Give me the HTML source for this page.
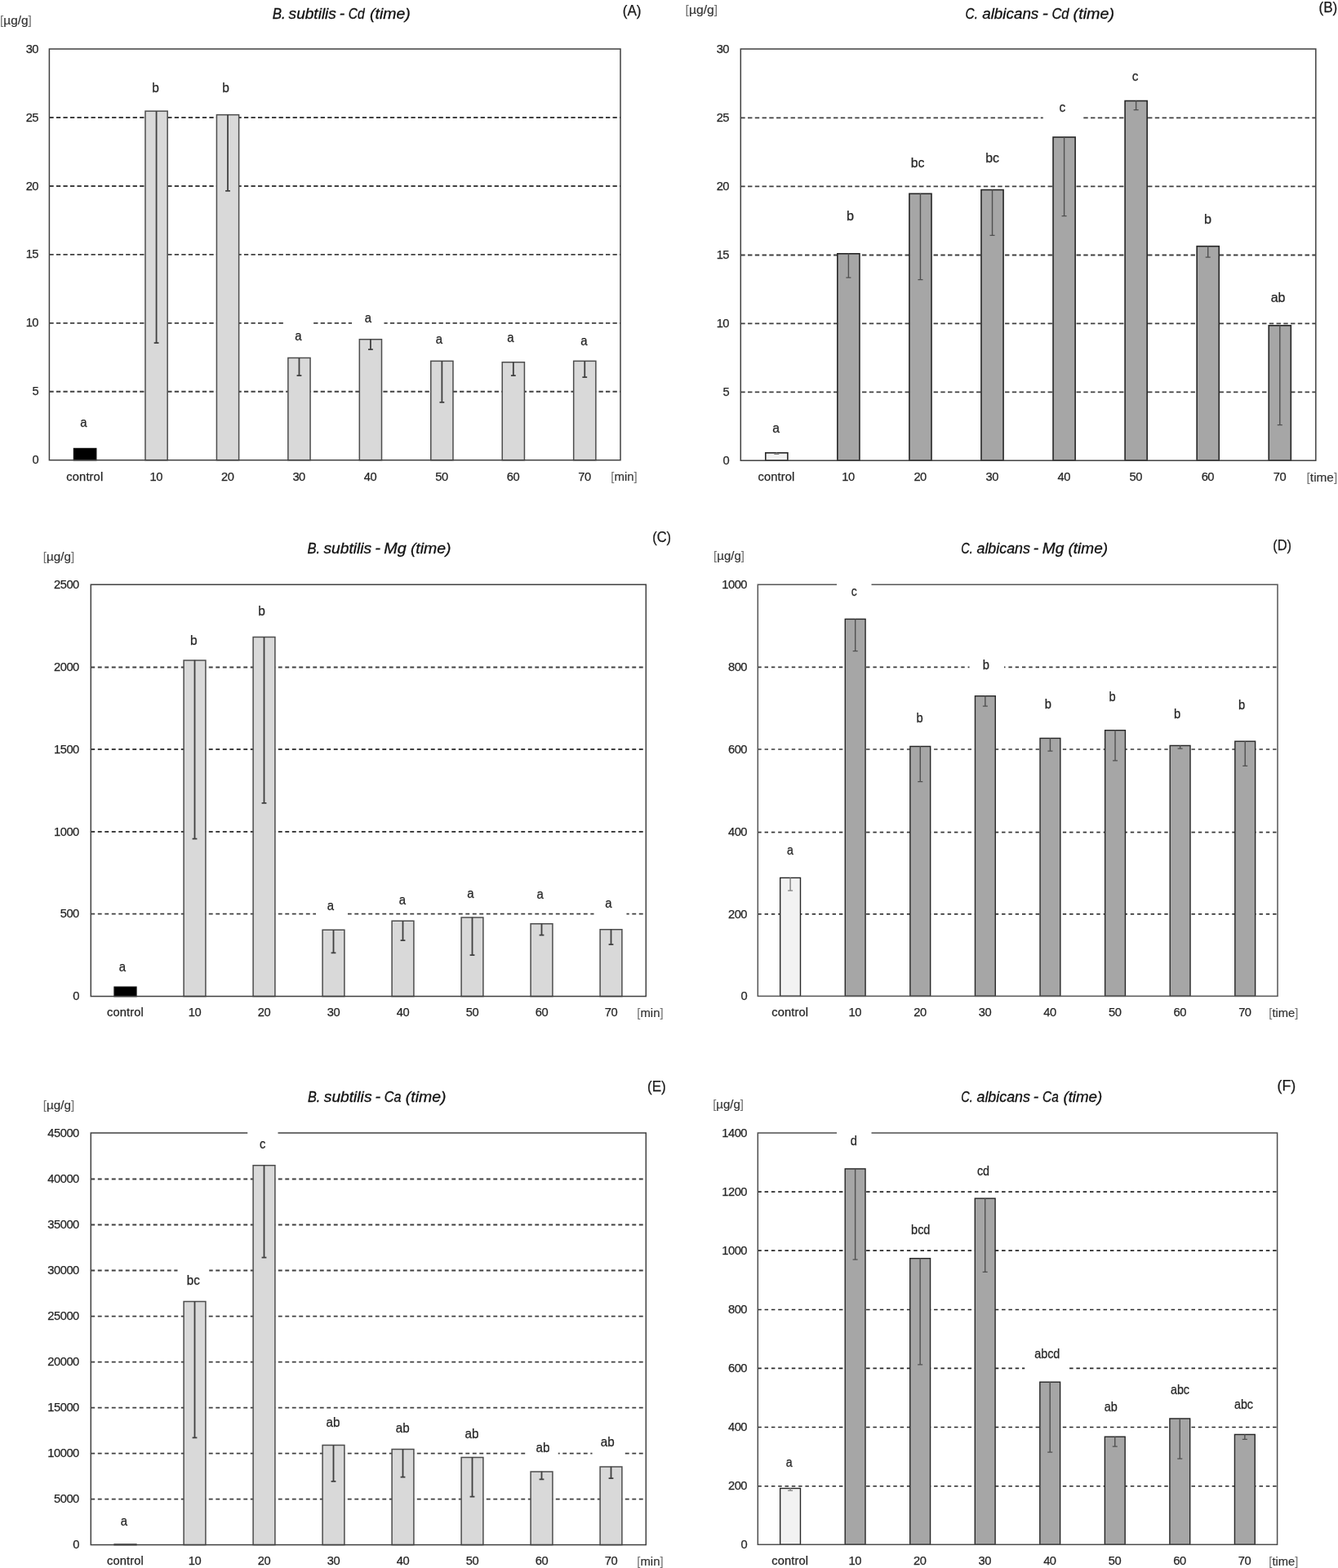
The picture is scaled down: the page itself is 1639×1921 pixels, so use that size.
<!DOCTYPE html>
<html lang="en">
<head>
<meta charset="utf-8">
<title>Metal accumulation over time - B. subtilis and C. albicans</title>
<style>
html,body{margin:0;padding:0;background:#fff;}
body{width:1639px;height:1921px;overflow:hidden;}
svg{display:block;font-family:'Liberation Sans', sans-serif;}
.frame{fill:none;stroke-width:1.5;}
.dl{font-size:16.0px;fill:#262626;text-anchor:middle;stroke:#262626;stroke-width:0.25px;}
.yt{font-size:14.7px;fill:#262626;text-anchor:end;letter-spacing:-0.45px;stroke:#262626;stroke-width:0.25px;}
.xt{font-size:14.7px;fill:#262626;text-anchor:middle;letter-spacing:-0.45px;stroke:#262626;stroke-width:0.25px;}
.xc{letter-spacing:0.12px;}
.un{font-size:15.2px;fill:#333333;stroke:#333;stroke-width:0.2px;}
.br{fill:#707070;stroke:none;}
.ti{font-size:17.8px;fill:#111;stroke:#111;stroke-width:0.3px;font-style:italic;}
.le{font-size:18.0px;fill:#1a1a1a;stroke:#1a1a1a;stroke-width:0.25px;}
</style>
</head>
<body>
<svg width="1639" height="1921" viewBox="0 0 1639 1921">
<rect width="1639" height="1921" fill="#fff"/>
<g class="panel">
<line x1="60.4" y1="479.75" x2="760" y2="479.75" stroke="#404040" stroke-width="1.85" stroke-dasharray="5.3 3.22"/>
<line x1="60.4" y1="395.8" x2="760" y2="395.8" stroke="#404040" stroke-width="1.85" stroke-dasharray="5.3 3.22"/>
<line x1="60.4" y1="311.9" x2="760" y2="311.9" stroke="#404040" stroke-width="1.85" stroke-dasharray="5.3 3.22"/>
<line x1="60.4" y1="228" x2="760" y2="228" stroke="#404040" stroke-width="1.85" stroke-dasharray="5.3 3.22"/>
<line x1="60.4" y1="144" x2="760" y2="144" stroke="#404040" stroke-width="1.85" stroke-dasharray="5.3 3.22"/>
<rect x="90.53" y="549.55" width="27.2" height="14.15" fill="#000000" stroke="#0d0d0d" stroke-width="1.5"/>
<rect x="177.98" y="136.15" width="27.2" height="427.55" fill="#d9d9d9" stroke="#4d4d4d" stroke-width="1.5"/>
<path d="M191.58 135.9V421.1M188.68 420.2H194.48" fill="none" stroke="#404040" stroke-width="1.8"/>
<rect x="265.42" y="140.65" width="27.2" height="423.05" fill="#d9d9d9" stroke="#4d4d4d" stroke-width="1.5"/>
<path d="M279.02 140.4V234.85M276.12 233.95H281.92" fill="none" stroke="#404040" stroke-width="1.8"/>
<rect x="352.87" y="438.45" width="27.2" height="125.25" fill="#d9d9d9" stroke="#4d4d4d" stroke-width="1.5"/>
<path d="M366.47 438.2V461.1M363.57 460.2H369.37" fill="none" stroke="#404040" stroke-width="1.8"/>
<rect x="440.32" y="415.75" width="27.2" height="147.95" fill="#d9d9d9" stroke="#4d4d4d" stroke-width="1.5"/>
<path d="M453.93 415.5V429.1M451.03 428.2H456.82" fill="none" stroke="#404040" stroke-width="1.8"/>
<rect x="527.77" y="442.35" width="27.2" height="121.35" fill="#d9d9d9" stroke="#4d4d4d" stroke-width="1.5"/>
<path d="M541.38 442.1V493.85M538.48 492.95H544.27" fill="none" stroke="#404040" stroke-width="1.8"/>
<rect x="615.23" y="443.75" width="27.2" height="119.95" fill="#d9d9d9" stroke="#4d4d4d" stroke-width="1.5"/>
<path d="M628.83 443.5V461.1M625.93 460.2H631.73" fill="none" stroke="#404040" stroke-width="1.8"/>
<rect x="702.67" y="442.35" width="27.2" height="121.35" fill="#d9d9d9" stroke="#4d4d4d" stroke-width="1.5"/>
<path d="M716.27 442.1V463.1M713.38 462.2H719.17" fill="none" stroke="#404040" stroke-width="1.8"/>
<rect class="frame" x="60.4" y="60" width="699.6" height="503.7" stroke="#404040"/>
<rect fill="#fff" x="347.5" y="393.3" width="36.5" height="5"/>
<rect fill="#fff" x="431" y="393.3" width="39.5" height="5"/>
<text class="dl" x="102.5" y="523" font-size="16" textLength="8.3" lengthAdjust="spacingAndGlyphs">a</text>
<text class="dl" x="190.5" y="113" font-size="16" textLength="8.6" lengthAdjust="spacingAndGlyphs">b</text>
<text class="dl" x="276.5" y="113" font-size="16" textLength="8.6" lengthAdjust="spacingAndGlyphs">b</text>
<text class="dl" x="365.3" y="417" font-size="16" textLength="8.3" lengthAdjust="spacingAndGlyphs">a</text>
<text class="dl" x="451" y="395" font-size="16" textLength="8.3" lengthAdjust="spacingAndGlyphs">a</text>
<text class="dl" x="538" y="421" font-size="16" textLength="8.3" lengthAdjust="spacingAndGlyphs">a</text>
<text class="dl" x="625.5" y="419" font-size="16" textLength="8.3" lengthAdjust="spacingAndGlyphs">a</text>
<text class="dl" x="715.5" y="423" font-size="16" textLength="8.3" lengthAdjust="spacingAndGlyphs">a</text>
<text class="yt" x="47.1" y="568" font-size="14.7">0</text>
<text class="yt" x="47.1" y="484" font-size="14.7">5</text>
<text class="yt" x="47.1" y="400" font-size="14.7">10</text>
<text class="yt" x="47.1" y="316" font-size="14.7">15</text>
<text class="yt" x="47.1" y="233" font-size="14.7">20</text>
<text class="yt" x="47.1" y="149" font-size="14.7">25</text>
<text class="yt" x="47.1" y="65" font-size="14.7">30</text>
<text class="xt xc" x="103.83" y="589" font-size="14.7">control</text>
<text class="xt" x="191.23" y="589" font-size="14.7">10</text>
<text class="xt" x="278.67" y="589" font-size="14.7">20</text>
<text class="xt" x="366.12" y="589" font-size="14.7">30</text>
<text class="xt" x="453.57" y="589" font-size="14.7">40</text>
<text class="xt" x="541.02" y="589" font-size="14.7">50</text>
<text class="xt" x="628.48" y="589" font-size="14.7">60</text>
<text class="xt" x="715.92" y="589" font-size="14.7">70</text>
<text class="un" x="0.1" y="30" font-size="15.2" textLength="38.8" lengthAdjust="spacingAndGlyphs"><tspan class="br">[</tspan>µg/g<tspan class="br">]</tspan></text>
<text class="un" x="748.3" y="589" font-size="15.2" textLength="32.4" lengthAdjust="spacingAndGlyphs"><tspan class="br">[</tspan>min<tspan class="br">]</tspan></text>
<text class="ti" y="22.6" font-size="17.8"><tspan x="333.7" textLength="16" lengthAdjust="spacingAndGlyphs">B.</tspan> <tspan x="353.6" textLength="58.3" lengthAdjust="spacingAndGlyphs">subtilis</tspan> <tspan x="415.8" textLength="6.5" lengthAdjust="spacingAndGlyphs">-</tspan> <tspan x="426.8" textLength="19.9" lengthAdjust="spacingAndGlyphs">Cd</tspan> <tspan x="453" textLength="49.8" lengthAdjust="spacingAndGlyphs">(time)</tspan></text>
<text class="le" x="762.7" y="19" textLength="22.8" lengthAdjust="spacingAndGlyphs">(A)</text>
</g>
<g class="panel">
<line x1="907.3" y1="480.3" x2="1611.8" y2="480.3" stroke="#404040" stroke-width="1.8" stroke-dasharray="5.4 3.35"/>
<line x1="907.3" y1="396.4" x2="1611.8" y2="396.4" stroke="#404040" stroke-width="1.8" stroke-dasharray="5.4 3.35"/>
<line x1="907.3" y1="312.5" x2="1611.8" y2="312.5" stroke="#404040" stroke-width="1.8" stroke-dasharray="5.4 3.35"/>
<line x1="907.3" y1="228.4" x2="1611.8" y2="228.4" stroke="#404040" stroke-width="1.8" stroke-dasharray="5.4 3.35"/>
<line x1="907.3" y1="144.4" x2="1611.8" y2="144.4" stroke="#404040" stroke-width="1.8" stroke-dasharray="5.4 3.35"/>
<rect x="937.78" y="554.8" width="27.1" height="9.4" fill="#f2f2f2" stroke="#262626" stroke-width="1.6"/>
<path d="M951.33 554.5V557.1M948.33 556.4H954.33" fill="none" stroke="#7f7f7f" stroke-width="1.4"/>
<rect x="1025.84" y="310.8" width="27.1" height="253.4" fill="#a6a6a6" stroke="#262626" stroke-width="1.6"/>
<path d="M1039.39 310.5V340.8M1036.39 340.1H1042.39" fill="none" stroke="#505050" stroke-width="1.4"/>
<rect x="1113.91" y="237.3" width="27.1" height="326.9" fill="#a6a6a6" stroke="#262626" stroke-width="1.6"/>
<path d="M1127.46 237V343.3M1124.46 342.6H1130.46" fill="none" stroke="#505050" stroke-width="1.4"/>
<rect x="1201.97" y="232.55" width="27.1" height="331.65" fill="#a6a6a6" stroke="#262626" stroke-width="1.6"/>
<path d="M1215.52 232.25V289.05M1212.52 288.35H1218.52" fill="none" stroke="#505050" stroke-width="1.4"/>
<rect x="1290.03" y="168.05" width="27.1" height="396.15" fill="#a6a6a6" stroke="#262626" stroke-width="1.6"/>
<path d="M1303.58 167.75V265.3M1300.58 264.6H1306.58" fill="none" stroke="#505050" stroke-width="1.4"/>
<rect x="1378.09" y="123.55" width="27.1" height="440.65" fill="#a6a6a6" stroke="#262626" stroke-width="1.6"/>
<path d="M1391.64 123.25V135.3M1388.64 134.6H1394.64" fill="none" stroke="#505050" stroke-width="1.4"/>
<rect x="1466.16" y="301.7" width="27.1" height="262.5" fill="#a6a6a6" stroke="#262626" stroke-width="1.6"/>
<path d="M1479.71 301.4V315.8M1476.71 315.1H1482.71" fill="none" stroke="#505050" stroke-width="1.4"/>
<rect x="1554.22" y="398.8" width="27.1" height="165.4" fill="#a6a6a6" stroke="#262626" stroke-width="1.6"/>
<path d="M1567.77 398.5V521.3M1564.77 520.6H1570.77" fill="none" stroke="#505050" stroke-width="1.4"/>
<rect class="frame" x="907.3" y="60" width="704.5" height="504.2" stroke="#404040"/>
<rect fill="#fff" x="1277.75" y="141.9" width="49.25" height="5"/>
<text class="dl" x="950.5" y="530" font-size="16.8" textLength="8.72" lengthAdjust="spacingAndGlyphs">a</text>
<text class="dl" x="1041.5" y="270" font-size="16.8" textLength="9.03" lengthAdjust="spacingAndGlyphs">b</text>
<text class="dl" x="1124" y="205" font-size="16.8" textLength="16.7" lengthAdjust="spacingAndGlyphs">bc</text>
<text class="dl" x="1215.5" y="199" font-size="16.8" textLength="16.7" lengthAdjust="spacingAndGlyphs">bc</text>
<text class="dl" x="1301.3" y="137" font-size="16.8" textLength="7.67" lengthAdjust="spacingAndGlyphs">c</text>
<text class="dl" x="1390.5" y="99" font-size="16.8" textLength="7.67" lengthAdjust="spacingAndGlyphs">c</text>
<text class="dl" x="1479.5" y="274" font-size="16.8" textLength="9.03" lengthAdjust="spacingAndGlyphs">b</text>
<text class="dl" x="1565.5" y="370" font-size="16.8" textLength="17.75" lengthAdjust="spacingAndGlyphs">ab</text>
<text class="yt" x="893.1" y="569" font-size="15.44">0</text>
<text class="yt" x="893.1" y="485" font-size="15.44">5</text>
<text class="yt" x="893.1" y="401" font-size="15.44">10</text>
<text class="yt" x="893.1" y="317" font-size="15.44">15</text>
<text class="yt" x="893.1" y="233" font-size="15.44">20</text>
<text class="yt" x="893.1" y="149" font-size="15.44">25</text>
<text class="yt" x="893.1" y="65" font-size="15.44">30</text>
<text class="xt xc" x="951.03" y="589" font-size="15.44">control</text>
<text class="xt" x="1039.04" y="589" font-size="15.44">10</text>
<text class="xt" x="1127.11" y="589" font-size="15.44">20</text>
<text class="xt" x="1215.17" y="589" font-size="15.44">30</text>
<text class="xt" x="1303.23" y="589" font-size="15.44">40</text>
<text class="xt" x="1391.29" y="589" font-size="15.44">50</text>
<text class="xt" x="1479.36" y="589" font-size="15.44">60</text>
<text class="xt" x="1567.42" y="589" font-size="15.44">70</text>
<text class="un" x="839.6" y="17" font-size="15.96" textLength="39.6" lengthAdjust="spacingAndGlyphs"><tspan class="br">[</tspan>µg/g<tspan class="br">]</tspan></text>
<text class="un" x="1600.6" y="590" font-size="15.96" textLength="37.6" lengthAdjust="spacingAndGlyphs"><tspan class="br">[</tspan>time<tspan class="br">]</tspan></text>
<text class="ti" y="23.2" font-size="18.69"><tspan x="1182.6" textLength="15.3" lengthAdjust="spacingAndGlyphs">C.</tspan> <tspan x="1203.2" textLength="69.1" lengthAdjust="spacingAndGlyphs">albicans</tspan> <tspan x="1276.8" textLength="7.1" lengthAdjust="spacingAndGlyphs">-</tspan> <tspan x="1288.4" textLength="21.1" lengthAdjust="spacingAndGlyphs">Cd</tspan> <tspan x="1314.6" textLength="50.4" lengthAdjust="spacingAndGlyphs">(time)</tspan></text>
<text class="le" x="1615.45" y="15" textLength="22.8" lengthAdjust="spacingAndGlyphs">(B)</text>
</g>
<g class="panel">
<line x1="111.3" y1="1119.6" x2="791.3" y2="1119.6" stroke="#404040" stroke-width="1.9" stroke-dasharray="4.9 3.6"/>
<line x1="111.3" y1="1019" x2="791.3" y2="1019" stroke="#404040" stroke-width="1.9" stroke-dasharray="4.9 3.6"/>
<line x1="111.3" y1="918" x2="791.3" y2="918" stroke="#404040" stroke-width="1.9" stroke-dasharray="4.9 3.6"/>
<line x1="111.3" y1="817.5" x2="791.3" y2="817.5" stroke="#404040" stroke-width="1.9" stroke-dasharray="4.9 3.6"/>
<rect x="140.1" y="1209.25" width="26.8" height="11.35" fill="#000000" stroke="#0d0d0d" stroke-width="1.5"/>
<rect x="225.1" y="809" width="26.8" height="411.6" fill="#d9d9d9" stroke="#4d4d4d" stroke-width="1.5"/>
<path d="M238.5 808.75V1028.6M235.6 1027.7H241.4" fill="none" stroke="#404040" stroke-width="1.8"/>
<rect x="310.1" y="780.5" width="26.8" height="440.1" fill="#d9d9d9" stroke="#4d4d4d" stroke-width="1.5"/>
<path d="M323.5 780.25V984.85M320.6 983.95H326.4" fill="none" stroke="#404040" stroke-width="1.8"/>
<rect x="395.1" y="1139.25" width="26.8" height="81.35" fill="#d9d9d9" stroke="#4d4d4d" stroke-width="1.5"/>
<path d="M408.5 1139V1168.35M405.6 1167.45H411.4" fill="none" stroke="#404040" stroke-width="1.8"/>
<rect x="480.1" y="1128.25" width="26.8" height="92.35" fill="#d9d9d9" stroke="#4d4d4d" stroke-width="1.5"/>
<path d="M493.5 1128V1153.1M490.6 1152.2H496.4" fill="none" stroke="#404040" stroke-width="1.8"/>
<rect x="565.1" y="1124" width="26.8" height="96.6" fill="#d9d9d9" stroke="#4d4d4d" stroke-width="1.5"/>
<path d="M578.5 1123.75V1171.1M575.6 1170.2H581.4" fill="none" stroke="#404040" stroke-width="1.8"/>
<rect x="650.1" y="1131.75" width="26.8" height="88.85" fill="#d9d9d9" stroke="#4d4d4d" stroke-width="1.5"/>
<path d="M663.5 1131.5V1146.6M660.6 1145.7H666.4" fill="none" stroke="#404040" stroke-width="1.8"/>
<rect x="735.1" y="1138.75" width="26.8" height="81.85" fill="#d9d9d9" stroke="#4d4d4d" stroke-width="1.5"/>
<path d="M748.5 1138.5V1158.1M745.6 1157.2H751.4" fill="none" stroke="#404040" stroke-width="1.8"/>
<rect class="frame" x="111.3" y="716.2" width="680" height="504.4" stroke="#404040"/>
<rect fill="#fff" x="387" y="1117.1" width="39" height="5"/>
<rect fill="#fff" x="727.5" y="1117.1" width="40" height="5"/>
<text class="dl" x="150" y="1190" font-size="16" textLength="8.3" lengthAdjust="spacingAndGlyphs">a</text>
<text class="dl" x="237.3" y="790" font-size="16" textLength="8.6" lengthAdjust="spacingAndGlyphs">b</text>
<text class="dl" x="320.5" y="754" font-size="16" textLength="8.6" lengthAdjust="spacingAndGlyphs">b</text>
<text class="dl" x="405" y="1115" font-size="16" textLength="8.3" lengthAdjust="spacingAndGlyphs">a</text>
<text class="dl" x="493" y="1108" font-size="16" textLength="8.3" lengthAdjust="spacingAndGlyphs">a</text>
<text class="dl" x="576.5" y="1100" font-size="16" textLength="8.3" lengthAdjust="spacingAndGlyphs">a</text>
<text class="dl" x="661.7" y="1101" font-size="16" textLength="8.3" lengthAdjust="spacingAndGlyphs">a</text>
<text class="dl" x="745.5" y="1112" font-size="16" textLength="8.3" lengthAdjust="spacingAndGlyphs">a</text>
<text class="yt" x="96.85" y="1225" font-size="14.7">0</text>
<text class="yt" x="96.85" y="1124" font-size="14.7">500</text>
<text class="yt" x="96.85" y="1024" font-size="14.7">1000</text>
<text class="yt" x="96.85" y="923" font-size="14.7">1500</text>
<text class="yt" x="96.85" y="822" font-size="14.7">2000</text>
<text class="yt" x="96.85" y="721" font-size="14.7">2500</text>
<text class="xt xc" x="153.5" y="1245" font-size="14.7">control</text>
<text class="xt" x="238.45" y="1245" font-size="14.7">10</text>
<text class="xt" x="323.45" y="1245" font-size="14.7">20</text>
<text class="xt" x="408.45" y="1245" font-size="14.7">30</text>
<text class="xt" x="493.45" y="1245" font-size="14.7">40</text>
<text class="xt" x="578.45" y="1245" font-size="14.7">50</text>
<text class="xt" x="663.45" y="1245" font-size="14.7">60</text>
<text class="xt" x="748.45" y="1245" font-size="14.7">70</text>
<text class="un" x="52.85" y="687" font-size="15.2" textLength="38.4" lengthAdjust="spacingAndGlyphs"><tspan class="br">[</tspan>µg/g<tspan class="br">]</tspan></text>
<text class="un" x="780.35" y="1246" font-size="15.2" textLength="32.2" lengthAdjust="spacingAndGlyphs"><tspan class="br">[</tspan>min<tspan class="br">]</tspan></text>
<text class="ti" y="678.2" font-size="17.8"><tspan x="376.6" textLength="15.6" lengthAdjust="spacingAndGlyphs">B.</tspan> <tspan x="396.5" textLength="58.6" lengthAdjust="spacingAndGlyphs">subtilis</tspan> <tspan x="459.3" textLength="6.8" lengthAdjust="spacingAndGlyphs">-</tspan> <tspan x="470.3" textLength="27.5" lengthAdjust="spacingAndGlyphs">Mg</tspan> <tspan x="502.9" textLength="49.6" lengthAdjust="spacingAndGlyphs">(time)</tspan></text>
<text class="le" x="799.2" y="664" textLength="22.8" lengthAdjust="spacingAndGlyphs">(C)</text>
</g>
<g class="panel">
<line x1="928.3" y1="1119.9" x2="1565" y2="1119.9" stroke="#3a3a3a" stroke-width="1.65" stroke-dasharray="4.4 3.9"/>
<line x1="928.3" y1="1019.6" x2="1565" y2="1019.6" stroke="#3a3a3a" stroke-width="1.65" stroke-dasharray="4.4 3.9"/>
<line x1="928.3" y1="918" x2="1565" y2="918" stroke="#3a3a3a" stroke-width="1.65" stroke-dasharray="4.4 3.9"/>
<line x1="928.3" y1="817.4" x2="1565" y2="817.4" stroke="#3a3a3a" stroke-width="1.65" stroke-dasharray="4.4 3.9"/>
<rect x="955.69" y="1075.45" width="24.8" height="144.95" fill="#f2f2f2" stroke="#262626" stroke-width="1.4"/>
<path d="M968.09 1075.25V1091.8M965.09 1091.1H971.09" fill="none" stroke="#7f7f7f" stroke-width="1.4"/>
<rect x="1035.28" y="758.45" width="24.8" height="461.95" fill="#a6a6a6" stroke="#262626" stroke-width="1.4"/>
<path d="M1047.68 758.25V798.3M1044.68 797.6H1050.68" fill="none" stroke="#505050" stroke-width="1.4"/>
<rect x="1114.87" y="914.45" width="24.8" height="305.95" fill="#a6a6a6" stroke="#262626" stroke-width="1.4"/>
<path d="M1127.27 914.25V958.3M1124.27 957.6H1130.27" fill="none" stroke="#505050" stroke-width="1.4"/>
<rect x="1194.46" y="852.7" width="24.8" height="367.7" fill="#a6a6a6" stroke="#262626" stroke-width="1.4"/>
<path d="M1206.86 852.5V865.8M1203.86 865.1H1209.86" fill="none" stroke="#505050" stroke-width="1.4"/>
<rect x="1274.04" y="904.45" width="24.8" height="315.95" fill="#a6a6a6" stroke="#262626" stroke-width="1.4"/>
<path d="M1286.44 904.25V920.8M1283.44 920.1H1289.44" fill="none" stroke="#505050" stroke-width="1.4"/>
<rect x="1353.63" y="894.7" width="24.8" height="325.7" fill="#a6a6a6" stroke="#262626" stroke-width="1.4"/>
<path d="M1366.03 894.5V932.55M1363.03 931.85H1369.03" fill="none" stroke="#505050" stroke-width="1.4"/>
<rect x="1433.22" y="913.45" width="24.8" height="306.95" fill="#a6a6a6" stroke="#262626" stroke-width="1.4"/>
<path d="M1445.62 913.25V917.8M1442.62 917.1H1448.62" fill="none" stroke="#505050" stroke-width="1.4"/>
<rect x="1512.81" y="908.2" width="24.8" height="312.2" fill="#a6a6a6" stroke="#262626" stroke-width="1.4"/>
<path d="M1525.21 908V939.05M1522.21 938.35H1528.21" fill="none" stroke="#505050" stroke-width="1.4"/>
<rect class="frame" x="928.3" y="716.2" width="636.7" height="504.2" stroke="#555555"/>
<rect fill="#fff" x="1025" y="713.7" width="42.5" height="5"/>
<rect fill="#fff" x="1187.5" y="814.9" width="42.5" height="5"/>
<text class="dl" x="968" y="1047" font-size="15.2" textLength="7.89" lengthAdjust="spacingAndGlyphs">a</text>
<text class="dl" x="1046.25" y="730" font-size="15.2" textLength="6.93" lengthAdjust="spacingAndGlyphs">c</text>
<text class="dl" x="1126.5" y="885" font-size="15.2" textLength="8.17" lengthAdjust="spacingAndGlyphs">b</text>
<text class="dl" x="1207.75" y="820" font-size="15.2" textLength="8.17" lengthAdjust="spacingAndGlyphs">b</text>
<text class="dl" x="1283.75" y="868" font-size="15.2" textLength="8.17" lengthAdjust="spacingAndGlyphs">b</text>
<text class="dl" x="1362.5" y="859" font-size="15.2" textLength="8.17" lengthAdjust="spacingAndGlyphs">b</text>
<text class="dl" x="1442" y="880" font-size="15.2" textLength="8.17" lengthAdjust="spacingAndGlyphs">b</text>
<text class="dl" x="1521" y="869" font-size="15.2" textLength="8.17" lengthAdjust="spacingAndGlyphs">b</text>
<text class="yt" x="915.1" y="1225" font-size="13.96">0</text>
<text class="yt" x="915.1" y="1125" font-size="13.96">200</text>
<text class="yt" x="915.1" y="1024" font-size="13.96">400</text>
<text class="yt" x="915.1" y="923" font-size="13.96">600</text>
<text class="yt" x="915.1" y="822" font-size="13.96">800</text>
<text class="yt" x="915.1" y="721" font-size="13.96">1000</text>
<text class="xt xc" x="967.79" y="1245" font-size="13.96">control</text>
<text class="xt" x="1047.33" y="1245" font-size="13.96">10</text>
<text class="xt" x="1126.92" y="1245" font-size="13.96">20</text>
<text class="xt" x="1206.51" y="1245" font-size="13.96">30</text>
<text class="xt" x="1286.09" y="1245" font-size="13.96">40</text>
<text class="xt" x="1365.68" y="1245" font-size="13.96">50</text>
<text class="xt" x="1445.27" y="1245" font-size="13.96">60</text>
<text class="xt" x="1524.86" y="1245" font-size="13.96">70</text>
<text class="un" x="874.1" y="686" font-size="13.68" textLength="37.8" lengthAdjust="spacingAndGlyphs"><tspan class="br">[</tspan>µg/g<tspan class="br">]</tspan></text>
<text class="un" x="1554.35" y="1246" font-size="13.68" textLength="36" lengthAdjust="spacingAndGlyphs"><tspan class="br">[</tspan>time<tspan class="br">]</tspan></text>
<text class="ti" y="678.2" font-size="16.91"><tspan x="1177.3" textLength="14.4" lengthAdjust="spacingAndGlyphs">C.</tspan> <tspan x="1196.5" textLength="65.4" lengthAdjust="spacingAndGlyphs">albicans</tspan> <tspan x="1265.8" textLength="6.5" lengthAdjust="spacingAndGlyphs">-</tspan> <tspan x="1276.8" textLength="26.6" lengthAdjust="spacingAndGlyphs">Mg</tspan> <tspan x="1308.5" textLength="48.6" lengthAdjust="spacingAndGlyphs">(time)</tspan></text>
<text class="le" x="1559.2" y="674" textLength="22.8" lengthAdjust="spacingAndGlyphs">(D)</text>
</g>
<g class="panel">
<line x1="111.3" y1="1836.6" x2="791.3" y2="1836.6" stroke="#404040" stroke-width="1.9" stroke-dasharray="4.9 3.6"/>
<line x1="111.3" y1="1780.6" x2="791.3" y2="1780.6" stroke="#404040" stroke-width="1.9" stroke-dasharray="4.9 3.6"/>
<line x1="111.3" y1="1724.6" x2="791.3" y2="1724.6" stroke="#404040" stroke-width="1.9" stroke-dasharray="4.9 3.6"/>
<line x1="111.3" y1="1668.6" x2="791.3" y2="1668.6" stroke="#404040" stroke-width="1.9" stroke-dasharray="4.9 3.6"/>
<line x1="111.3" y1="1612.6" x2="791.3" y2="1612.6" stroke="#404040" stroke-width="1.9" stroke-dasharray="4.9 3.6"/>
<line x1="111.3" y1="1556.5" x2="791.3" y2="1556.5" stroke="#404040" stroke-width="1.9" stroke-dasharray="4.9 3.6"/>
<line x1="111.3" y1="1500.5" x2="791.3" y2="1500.5" stroke="#404040" stroke-width="1.9" stroke-dasharray="4.9 3.6"/>
<line x1="111.3" y1="1444.5" x2="791.3" y2="1444.5" stroke="#404040" stroke-width="1.9" stroke-dasharray="4.9 3.6"/>
<rect x="140.1" y="1892.15" width="26.8" height="0.45" fill="#000000" stroke="#0d0d0d" stroke-width="1.5"/>
<rect x="225.1" y="1594.5" width="26.8" height="298.1" fill="#d9d9d9" stroke="#4d4d4d" stroke-width="1.5"/>
<path d="M238.5 1594.25V1762.35M235.6 1761.45H241.4" fill="none" stroke="#404040" stroke-width="1.8"/>
<rect x="310.1" y="1427.75" width="26.8" height="464.85" fill="#d9d9d9" stroke="#4d4d4d" stroke-width="1.5"/>
<path d="M323.5 1427.5V1541.6M320.6 1540.7H326.4" fill="none" stroke="#404040" stroke-width="1.8"/>
<rect x="395.1" y="1770.5" width="26.8" height="122.1" fill="#d9d9d9" stroke="#4d4d4d" stroke-width="1.5"/>
<path d="M408.5 1770.25V1815.85M405.6 1814.95H411.4" fill="none" stroke="#404040" stroke-width="1.8"/>
<rect x="480.1" y="1775.5" width="26.8" height="117.1" fill="#d9d9d9" stroke="#4d4d4d" stroke-width="1.5"/>
<path d="M493.5 1775.25V1810.6M490.6 1809.7H496.4" fill="none" stroke="#404040" stroke-width="1.8"/>
<rect x="565.1" y="1785.5" width="26.8" height="107.1" fill="#d9d9d9" stroke="#4d4d4d" stroke-width="1.5"/>
<path d="M578.5 1785.25V1834.6M575.6 1833.7H581.4" fill="none" stroke="#404040" stroke-width="1.8"/>
<rect x="650.1" y="1803" width="26.8" height="89.6" fill="#d9d9d9" stroke="#4d4d4d" stroke-width="1.5"/>
<path d="M663.5 1802.75V1813.35M660.6 1812.45H666.4" fill="none" stroke="#404040" stroke-width="1.8"/>
<rect x="735.1" y="1797" width="26.8" height="95.6" fill="#d9d9d9" stroke="#4d4d4d" stroke-width="1.5"/>
<path d="M748.5 1796.75V1812.1M745.6 1811.2H751.4" fill="none" stroke="#404040" stroke-width="1.8"/>
<rect class="frame" x="111.3" y="1388" width="680" height="504.6" stroke="#404040"/>
<rect fill="#fff" x="303.25" y="1385.5" width="37.25" height="5"/>
<rect fill="#fff" x="217.5" y="1554" width="38.75" height="5"/>
<rect fill="#fff" x="645" y="1778.1" width="38.75" height="5"/>
<rect fill="#fff" x="725.5" y="1778.1" width="37.5" height="5"/>
<text class="dl" x="152" y="1869" font-size="16" textLength="8.3" lengthAdjust="spacingAndGlyphs">a</text>
<text class="dl" x="236.75" y="1574" font-size="16" textLength="15.9" lengthAdjust="spacingAndGlyphs">bc</text>
<text class="dl" x="321.75" y="1407" font-size="16" textLength="7.3" lengthAdjust="spacingAndGlyphs">c</text>
<text class="dl" x="408" y="1748" font-size="16" textLength="16.9" lengthAdjust="spacingAndGlyphs">ab</text>
<text class="dl" x="493.25" y="1755" font-size="16" textLength="16.9" lengthAdjust="spacingAndGlyphs">ab</text>
<text class="dl" x="578" y="1762" font-size="16" textLength="16.9" lengthAdjust="spacingAndGlyphs">ab</text>
<text class="dl" x="665" y="1779" font-size="16" textLength="16.9" lengthAdjust="spacingAndGlyphs">ab</text>
<text class="dl" x="744.25" y="1772" font-size="16" textLength="16.9" lengthAdjust="spacingAndGlyphs">ab</text>
<text class="yt" x="96.85" y="1897" font-size="14.7">0</text>
<text class="yt" x="96.85" y="1841" font-size="14.7">5000</text>
<text class="yt" x="96.85" y="1785" font-size="14.7">10000</text>
<text class="yt" x="96.85" y="1729" font-size="14.7">15000</text>
<text class="yt" x="96.85" y="1673" font-size="14.7">20000</text>
<text class="yt" x="96.85" y="1617" font-size="14.7">25000</text>
<text class="yt" x="96.85" y="1561" font-size="14.7">30000</text>
<text class="yt" x="96.85" y="1505" font-size="14.7">35000</text>
<text class="yt" x="96.85" y="1449" font-size="14.7">40000</text>
<text class="yt" x="96.85" y="1393" font-size="14.7">45000</text>
<text class="xt xc" x="153.5" y="1917" font-size="14.7">control</text>
<text class="xt" x="238.45" y="1917" font-size="14.7">10</text>
<text class="xt" x="323.45" y="1917" font-size="14.7">20</text>
<text class="xt" x="408.45" y="1917" font-size="14.7">30</text>
<text class="xt" x="493.45" y="1917" font-size="14.7">40</text>
<text class="xt" x="578.45" y="1917" font-size="14.7">50</text>
<text class="xt" x="663.45" y="1917" font-size="14.7">60</text>
<text class="xt" x="748.45" y="1917" font-size="14.7">70</text>
<text class="un" x="52.85" y="1359" font-size="15.2" textLength="38.4" lengthAdjust="spacingAndGlyphs"><tspan class="br">[</tspan>µg/g<tspan class="br">]</tspan></text>
<text class="un" x="780.35" y="1918" font-size="15.2" textLength="32.2" lengthAdjust="spacingAndGlyphs"><tspan class="br">[</tspan>min<tspan class="br">]</tspan></text>
<text class="ti" y="1350.2" font-size="17.8"><tspan x="377" textLength="15.3" lengthAdjust="spacingAndGlyphs">B.</tspan> <tspan x="396.8" textLength="58.7" lengthAdjust="spacingAndGlyphs">subtilis</tspan> <tspan x="459.6" textLength="6.7" lengthAdjust="spacingAndGlyphs">-</tspan> <tspan x="470.8" textLength="20.7" lengthAdjust="spacingAndGlyphs">Ca</tspan> <tspan x="496.8" textLength="49.6" lengthAdjust="spacingAndGlyphs">(time)</tspan></text>
<text class="le" x="792.95" y="1337" textLength="22.8" lengthAdjust="spacingAndGlyphs">(E)</text>
</g>
<g class="panel">
<line x1="928.3" y1="1820.7" x2="1564.6" y2="1820.7" stroke="#2a2a2a" stroke-width="1.6" stroke-dasharray="4.5 3.8"/>
<line x1="928.3" y1="1748.5" x2="1564.6" y2="1748.5" stroke="#2a2a2a" stroke-width="1.6" stroke-dasharray="4.5 3.8"/>
<line x1="928.3" y1="1676.4" x2="1564.6" y2="1676.4" stroke="#2a2a2a" stroke-width="1.6" stroke-dasharray="4.5 3.8"/>
<line x1="928.3" y1="1604.5" x2="1564.6" y2="1604.5" stroke="#2a2a2a" stroke-width="1.6" stroke-dasharray="4.5 3.8"/>
<line x1="928.3" y1="1532.1" x2="1564.6" y2="1532.1" stroke="#2a2a2a" stroke-width="1.6" stroke-dasharray="4.5 3.8"/>
<line x1="928.3" y1="1460.1" x2="1564.6" y2="1460.1" stroke="#2a2a2a" stroke-width="1.6" stroke-dasharray="4.5 3.8"/>
<rect x="955.67" y="1823.45" width="24.8" height="68.85" fill="#f2f2f2" stroke="#262626" stroke-width="1.4"/>
<path d="M968.07 1823.25V1826.8M965.07 1826.1H971.07" fill="none" stroke="#7f7f7f" stroke-width="1.4"/>
<rect x="1035.21" y="1431.95" width="24.8" height="460.35" fill="#a6a6a6" stroke="#262626" stroke-width="1.4"/>
<path d="M1047.61 1431.75V1543.8M1044.61 1543.1H1050.61" fill="none" stroke="#505050" stroke-width="1.4"/>
<rect x="1114.74" y="1541.7" width="24.8" height="350.6" fill="#a6a6a6" stroke="#262626" stroke-width="1.4"/>
<path d="M1127.14 1541.5V1672.55M1124.14 1671.85H1130.14" fill="none" stroke="#505050" stroke-width="1.4"/>
<rect x="1194.28" y="1468.2" width="24.8" height="424.1" fill="#a6a6a6" stroke="#262626" stroke-width="1.4"/>
<path d="M1206.68 1468V1559.05M1203.68 1558.35H1209.68" fill="none" stroke="#505050" stroke-width="1.4"/>
<rect x="1273.82" y="1693.2" width="24.8" height="199.1" fill="#a6a6a6" stroke="#262626" stroke-width="1.4"/>
<path d="M1286.22 1693V1779.8M1283.22 1779.1H1289.22" fill="none" stroke="#505050" stroke-width="1.4"/>
<rect x="1353.36" y="1760.2" width="24.8" height="132.1" fill="#a6a6a6" stroke="#262626" stroke-width="1.4"/>
<path d="M1365.76 1760V1772.8M1362.76 1772.1H1368.76" fill="none" stroke="#505050" stroke-width="1.4"/>
<rect x="1432.89" y="1737.95" width="24.8" height="154.35" fill="#a6a6a6" stroke="#262626" stroke-width="1.4"/>
<path d="M1445.29 1737.75V1787.8M1442.29 1787.1H1448.29" fill="none" stroke="#505050" stroke-width="1.4"/>
<rect x="1512.43" y="1757.45" width="24.8" height="134.85" fill="#a6a6a6" stroke="#262626" stroke-width="1.4"/>
<path d="M1524.83 1757.25V1764.05M1521.83 1763.35H1527.83" fill="none" stroke="#505050" stroke-width="1.4"/>
<rect class="frame" x="928.3" y="1388" width="636.3" height="504.3" stroke="#4d4d4d"/>
<rect fill="#fff" x="1025" y="1385.5" width="42.5" height="5"/>
<rect fill="#fff" x="1255.25" y="1673.9" width="54.25" height="5"/>
<text class="dl" x="966.75" y="1797" font-size="15.2" textLength="7.89" lengthAdjust="spacingAndGlyphs">a</text>
<text class="dl" x="1045.75" y="1403" font-size="15.2" textLength="8.17" lengthAdjust="spacingAndGlyphs">d</text>
<text class="dl" x="1127.75" y="1512" font-size="15.2" textLength="23.27" lengthAdjust="spacingAndGlyphs">bcd</text>
<text class="dl" x="1204.5" y="1440" font-size="15.2" textLength="15.1" lengthAdjust="spacingAndGlyphs">cd</text>
<text class="dl" x="1282.75" y="1664" font-size="15.2" textLength="31.16" lengthAdjust="spacingAndGlyphs">abcd</text>
<text class="dl" x="1360.75" y="1729" font-size="15.2" textLength="16.05" lengthAdjust="spacingAndGlyphs">ab</text>
<text class="dl" x="1445.5" y="1708" font-size="15.2" textLength="22.99" lengthAdjust="spacingAndGlyphs">abc</text>
<text class="dl" x="1523.5" y="1726" font-size="15.2" textLength="22.99" lengthAdjust="spacingAndGlyphs">abc</text>
<text class="yt" x="915.1" y="1897" font-size="13.96">0</text>
<text class="yt" x="915.1" y="1825" font-size="13.96">200</text>
<text class="yt" x="915.1" y="1753" font-size="13.96">400</text>
<text class="yt" x="915.1" y="1681" font-size="13.96">600</text>
<text class="yt" x="915.1" y="1609" font-size="13.96">800</text>
<text class="yt" x="915.1" y="1537" font-size="13.96">1000</text>
<text class="yt" x="915.1" y="1465" font-size="13.96">1200</text>
<text class="yt" x="915.1" y="1393" font-size="13.96">1400</text>
<text class="xt xc" x="967.77" y="1917" font-size="13.96">control</text>
<text class="xt" x="1047.26" y="1917" font-size="13.96">10</text>
<text class="xt" x="1126.79" y="1917" font-size="13.96">20</text>
<text class="xt" x="1206.33" y="1917" font-size="13.96">30</text>
<text class="xt" x="1285.87" y="1917" font-size="13.96">40</text>
<text class="xt" x="1365.41" y="1917" font-size="13.96">50</text>
<text class="xt" x="1444.94" y="1917" font-size="13.96">60</text>
<text class="xt" x="1524.48" y="1917" font-size="13.96">70</text>
<text class="un" x="873.2" y="1358" font-size="13.68" textLength="37.8" lengthAdjust="spacingAndGlyphs"><tspan class="br">[</tspan>µg/g<tspan class="br">]</tspan></text>
<text class="un" x="1554.35" y="1918" font-size="13.68" textLength="36" lengthAdjust="spacingAndGlyphs"><tspan class="br">[</tspan>time<tspan class="br">]</tspan></text>
<text class="ti" y="1350.2" font-size="16.91"><tspan x="1177.3" textLength="14.4" lengthAdjust="spacingAndGlyphs">C.</tspan> <tspan x="1196.5" textLength="65.4" lengthAdjust="spacingAndGlyphs">albicans</tspan> <tspan x="1265.8" textLength="6.5" lengthAdjust="spacingAndGlyphs">-</tspan> <tspan x="1277" textLength="19.7" lengthAdjust="spacingAndGlyphs">Ca</tspan> <tspan x="1302.4" textLength="47.9" lengthAdjust="spacingAndGlyphs">(time)</tspan></text>
<text class="le" x="1564.45" y="1336" textLength="22.8" lengthAdjust="spacingAndGlyphs">(F)</text>
</g>
</svg>
</body>
</html>
